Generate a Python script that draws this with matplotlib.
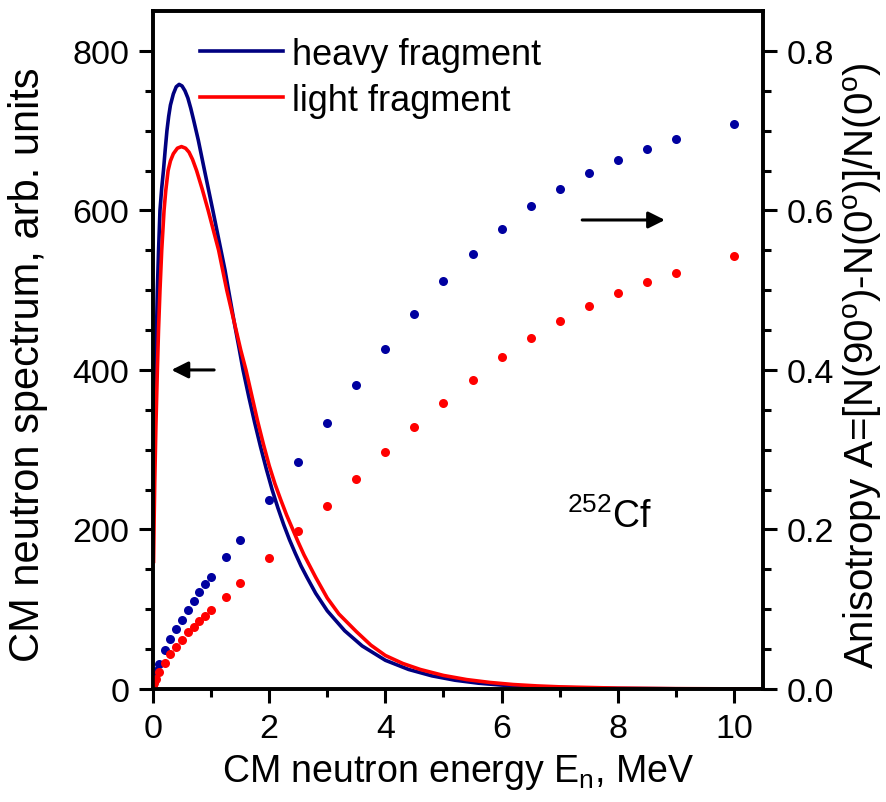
import matplotlib
matplotlib.use("Agg")
import matplotlib.pyplot as plt

plt.rcParams['font.family'] = ['Liberation Sans', 'DejaVu Sans']
plt.rcParams['mathtext.fontset'] = 'custom'
plt.rcParams['mathtext.rm'] = 'Liberation Sans'
plt.rcParams['mathtext.it'] = 'Liberation Sans:italic'

# CM neutron spectra
E_heavy = [0.01, 0.02, 0.03, 0.046, 0.06, 0.075, 0.095, 0.12, 0.15, 0.18, 0.21, 0.24, 0.27,
           0.30, 0.35, 0.40, 0.45, 0.50, 0.55, 0.60, 0.65, 0.70, 0.78, 0.87, 0.95, 1.03,
           1.10, 1.17, 1.24, 1.30, 1.41, 1.48, 1.55, 1.65, 1.75, 1.85, 1.95, 2.05, 2.15,
           2.25, 2.35, 2.45, 2.55, 2.65, 2.8, 3.0, 3.3, 3.6, 4.0, 4.4, 4.8, 5.2, 5.6, 6.0,
           6.5, 7.0, 8.0, 9.0, 10.0, 10.5]
S_heavy = [270, 320, 355, 400, 448, 500, 548, 600, 628, 650, 676, 700, 718,
           732, 746, 755, 758, 756, 750, 741, 728, 713, 688, 656, 628, 600,
           575, 550, 525, 500, 455, 428, 400, 366, 334, 304, 276, 250, 227,
           206, 187, 170, 154, 140, 120, 98, 73, 54, 36, 24.5, 16.5, 11, 7.3, 4.9,
           3.0, 1.8, 0.7, 0.27, 0.1, 0.06]

E_light = [0.01, 0.02, 0.03, 0.05, 0.075, 0.095, 0.12, 0.15, 0.19, 0.22, 0.26, 0.30, 0.35,
           0.42, 0.49, 0.56, 0.62, 0.68, 0.75, 0.85, 0.95, 1.04, 1.13, 1.20, 1.27, 1.35,
           1.43, 1.51, 1.60, 1.70, 1.80, 1.90, 2.0, 2.1, 2.2, 2.3, 2.4, 2.5, 2.6, 2.8,
           3.0, 3.2, 3.5, 3.75, 4.0, 4.3, 4.6, 5.0, 5.4, 5.8, 6.2, 6.6, 7.0, 8.0, 9.0,
           10.0, 10.5]
S_light = [160, 215, 260, 330, 400, 450, 500, 550, 600, 625, 650, 662, 671,
           678, 680, 678, 673, 664, 650, 626, 600, 575, 550, 525, 500, 475,
           450, 425, 400, 368, 336, 307, 280, 257, 237, 218, 201, 184, 168, 140,
           114, 94, 72, 55, 42, 32, 24.5, 17, 11.8, 8.2, 5.6, 3.9, 2.7, 1.1, 0.45,
           0.18, 0.1]

# Anisotropy
E_aniso = [0, 0.025, 0.05, 0.1, 0.2, 0.3, 0.4, 0.5, 0.6, 0.7, 0.8, 0.9, 1.0, 1.25, 1.5,
           2.0, 2.5, 3.0, 3.5, 4.0, 4.5, 5.0, 5.5, 6.0, 6.5, 7.0, 7.5, 8.0, 8.5, 9.0, 10.0]
A_heavy = [0.008, 0.015, 0.022, 0.031, 0.049, 0.063, 0.075, 0.087, 0.099, 0.110, 0.121,
           0.132, 0.141, 0.165, 0.187, 0.237, 0.284, 0.334, 0.381, 0.426, 0.470, 0.512,
           0.545, 0.577, 0.605, 0.627, 0.647, 0.663, 0.677, 0.690, 0.708]
A_light = [0.003, 0.008, 0.013, 0.021, 0.033, 0.044, 0.053, 0.061, 0.072, 0.078, 0.085,
           0.092, 0.099, 0.115, 0.133, 0.164, 0.198, 0.230, 0.263, 0.297, 0.328, 0.359,
           0.387, 0.416, 0.440, 0.461, 0.480, 0.496, 0.510, 0.522, 0.543]

x_ticks = [0, 2, 4, 6, 8, 10]
y_ticks = [0, 200, 400, 600, 800]
y2_ticks = [0.0, 0.2, 0.4, 0.6, 0.8]

NAVY = '#000080'
BLUE_DOT = '#0000A0'
RED = '#FF0000'

fig = plt.figure(figsize=(8.86, 8.03), dpi=100)
ax = fig.add_axes([153/886, 113/803, 610/886, 678/803])
ax2 = ax.twinx()

ax.plot(E_heavy, S_heavy, color=NAVY, lw=2.6, label='heavy fragment')
ax.plot(E_light, S_light, color=RED, lw=2.6, label='light fragment')

ax2.plot(E_aniso, A_heavy, 'o', color=BLUE_DOT, ms=6.5, mew=0)
ax2.plot(E_aniso, A_light, 'o', color=RED, ms=6.5, mew=0)

ax.set_xlim(0, 10.5)
ax.set_ylim(0, 850)
ax2.set_ylim(0, 0.85)

ax.set_xticks(x_ticks)
ax.set_xticks([1, 3, 5, 7, 9], minor=True)
ax.set_yticks(y_ticks)
ax.set_yticks([v for v in range(50, 850, 50) if v % 200], minor=True)
ax2.set_yticks(y2_ticks)
ax2.set_yticks([v / 100 for v in range(5, 85, 5) if v % 20], minor=True)
ax2.set_yticklabels([f'{v:.1f}' for v in y2_ticks])

for a in (ax, ax2):
    for s in a.spines.values():
        s.set_linewidth(2.6)
    a.tick_params(which='major', length=10, width=2.2, direction='out', labelsize=24.5, pad=7)
    a.tick_params(which='minor', length=6, width=2.2, direction='out')

ax.set_xlabel(r'CM neutron energy E$_\mathrm{n}$, MeV', fontsize=27, labelpad=6)
ax.set_ylabel('CM neutron spectrum, arb. units', fontsize=30)
ax2.set_ylabel(r'Anisotropy A=[N(90$^\mathrm{o}$)-N(0$^\mathrm{o}$)]/N(0$^\mathrm{o}$)',
               fontsize=29)
ax.yaxis.set_label_coords(-0.172, 0.479)
ax2.yaxis.set_label_coords(1.128, 0.479)

leg = ax.legend(loc='upper left', bbox_to_anchor=(0.077, 0.962), frameon=False,
                fontsize=26, handlelength=2.3, handletextpad=0.25, borderpad=0,
                borderaxespad=0, labelspacing=0.3)

ax.annotate('', xy=(0.27, 400), xytext=(1.1, 400),
            arrowprops=dict(arrowstyle='-|>', color='black', lw=2.2, mutation_scale=25))
ax.annotate('', xy=(8.86, 588), xytext=(7.34, 588),
            arrowprops=dict(arrowstyle='-|>', color='black', lw=2.2, mutation_scale=25))

ax.text(7.12, 203, r'$^{252}$Cf', fontsize=27, ha='left', va='baseline')

fig.savefig('out.png', dpi=100)
